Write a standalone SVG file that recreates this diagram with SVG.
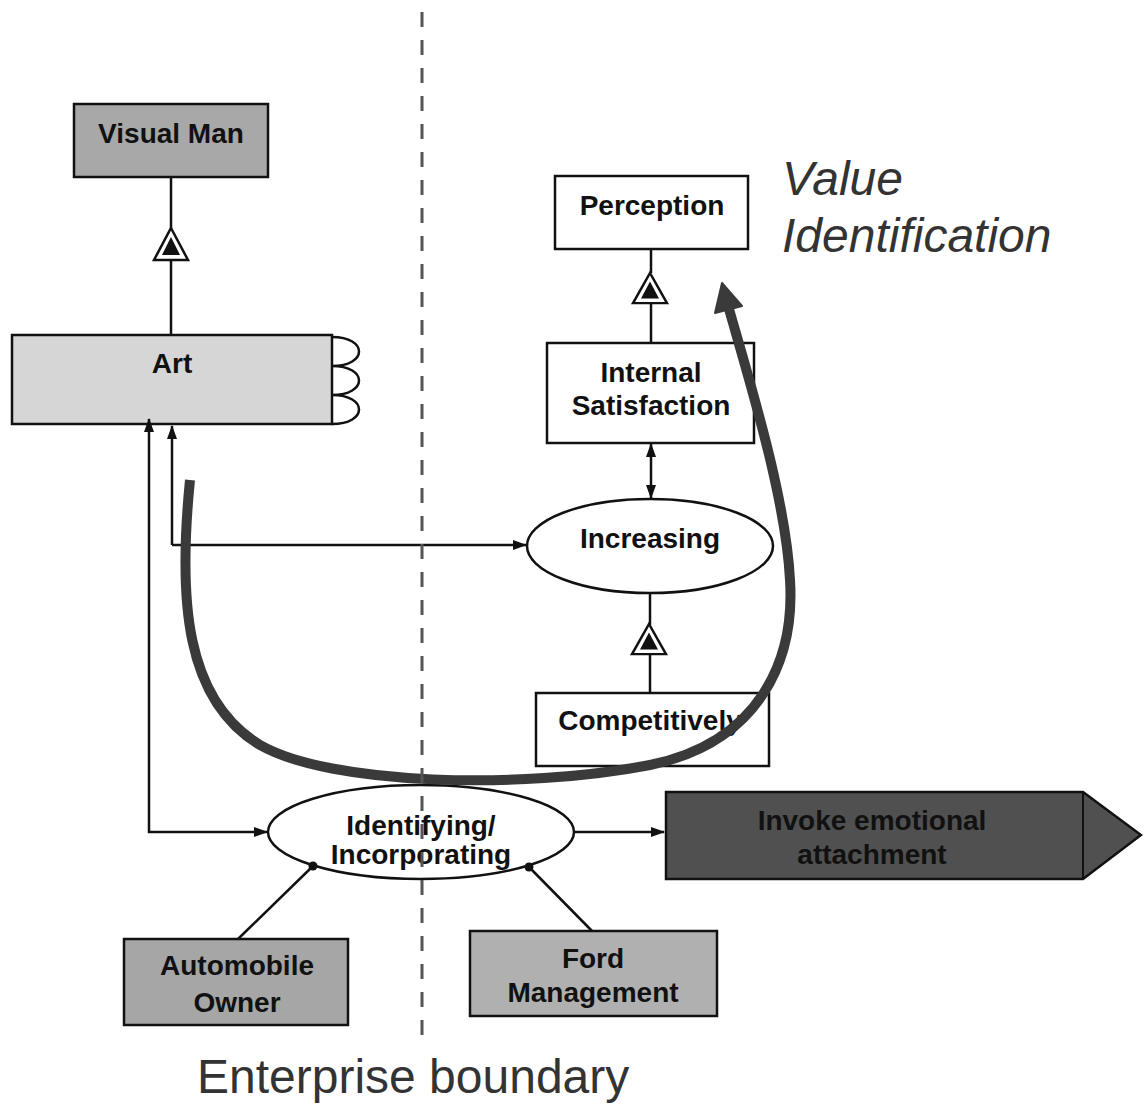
<svg xmlns="http://www.w3.org/2000/svg" width="1143" height="1106" viewBox="0 0 1143 1106">
<style>
.box{stroke:#111;stroke-width:2.5}
.lbl{font-family:"Liberation Sans",Arial,sans-serif;font-weight:bold;font-size:28px;fill:#111;text-anchor:middle}
.ln{stroke:#111;stroke-width:2.5;fill:none}
.big{font-family:"Liberation Sans",Arial,sans-serif;font-size:48px;fill:#333}
</style>
<defs>
<marker id="ah" viewBox="0 0 14 10" refX="13" refY="5" markerWidth="14" markerHeight="10" markerUnits="userSpaceOnUse" orient="auto-start-reverse">
<path d="M0,0 L14,5 L0,10 z" fill="#111"/>
</marker>
<g id="gen">
<path d="M0,0 L17,32 L-17,32 z" fill="#fff" stroke="#111" stroke-width="2.5"/>
<path d="M0,9 L9,27 L-9,27 z" fill="#111"/>
</g>
</defs>
<rect width="1143" height="1106" fill="#fff"/>

<g id="visual-man">
<rect class="box" x="74" y="104" width="194" height="73" fill="#a8a8a8"/>
<text class="lbl" x="171" y="143">Visual Man</text>
</g>
<g id="art">
<rect class="box" x="12" y="335" width="320" height="89" fill="#d6d6d6"/>
<path class="ln" d="M332,337 C368,337 368,366 332,366 C368,366 368,395 332,395 C368,395 368,424 332,424"/>
<text class="lbl" x="172" y="373">Art</text>
</g>
<g id="perception">
<rect class="box" x="555" y="176" width="193" height="73" fill="#fff"/>
<text class="lbl" x="652" y="215">Perception</text>
</g>
<g id="internal-satisfaction">
<rect class="box" x="547" y="343" width="207" height="100" fill="#fff"/>
<text class="lbl" x="651" y="382">Internal</text>
<text class="lbl" x="651" y="415">Satisfaction</text>
</g>
<g id="increasing">
<ellipse class="box" cx="650" cy="546" rx="123" ry="47" fill="#fff"/>
<text class="lbl" x="650" y="548">Increasing</text>
</g>
<g id="competitively">
<rect class="box" x="536" y="693" width="233" height="73" fill="#fff"/>
<text class="lbl" x="650" y="730">Competitively</text>
</g>
<g id="identifying">
<ellipse class="box" cx="421" cy="832" rx="153" ry="47" fill="#fff"/>
<text class="lbl" x="421" y="835" font-size="27">Identifying/</text>
<text class="lbl" x="421" y="864" font-size="27">Incorporating</text>
</g>
<g id="invoke">
<path class="box" d="M666,792 L1083,792 L1141,835 L1083,879 L666,879 z" fill="#505050"/>
<line x1="1083" y1="792" x2="1083" y2="879" stroke="#111" stroke-width="2"/>
<text class="lbl" x="872" y="830" fill="#1c1c1c">Invoke emotional</text>
<text class="lbl" x="872" y="864" fill="#1c1c1c">attachment</text>
</g>
<g id="automobile-owner">
<rect class="box" x="124" y="939" width="224" height="86" fill="#a6a6a6"/>
<text class="lbl" x="237" y="975">Automobile</text>
<text class="lbl" x="237" y="1012">Owner</text>
</g>
<g id="ford-management">
<rect class="box" x="470" y="931" width="247" height="85" fill="#b0b0b0"/>
<text class="lbl" x="593" y="968">Ford</text>
<text class="lbl" x="593" y="1002">Management</text>
</g>

<g id="connectors">
<line class="ln" x1="171" y1="177" x2="171" y2="228"/>
<line class="ln" x1="171" y1="260" x2="171" y2="335"/>
<use href="#gen" x="171" y="228"/>
<line class="ln" x1="651" y1="249" x2="651" y2="273"/>
<line class="ln" x1="651" y1="303" x2="651" y2="343"/>
<use href="#gen" x="650" y="273" transform="translate(650 273) scale(1 0.94) translate(-650 -273)"/>
<line class="ln" x1="650" y1="593" x2="650" y2="625"/>
<line class="ln" x1="650" y1="655" x2="650" y2="693"/>
<use href="#gen" x="649" y="624" transform="translate(649 624) scale(1 0.94) translate(-649 -624)"/>
<line class="ln" x1="651" y1="444" x2="651" y2="498" marker-start="url(#ah)" marker-end="url(#ah)"/>
<path class="ln" d="M172,545 L172,426" marker-end="url(#ah)"/>
<path class="ln" d="M526,545 L172,545" marker-start="url(#ah)"/>
<path class="ln" d="M267,832 L149,832 L149,419" marker-start="url(#ah)" marker-end="url(#ah)"/>
<line class="ln" x1="574" y1="832" x2="664" y2="832" marker-end="url(#ah)"/>
<line class="ln" x1="313" y1="866" x2="238" y2="939"/>
<circle cx="313" cy="866" r="4.5" fill="#111"/>
<line class="ln" x1="529" y1="867" x2="592" y2="931"/>
<circle cx="529" cy="867" r="4.5" fill="#111"/>
<path d="M190,480 C178,600 185,700 260,745 C330,785 520,790 650,765 C760,742 795,660 790,580 C786,500 751,386 729,309" fill="none" stroke="#3a3a3a" stroke-width="10"/>
<path d="M722,283 L742,306 L715,313 z" fill="#3a3a3a" stroke="#3a3a3a" stroke-width="2" stroke-linejoin="round"/>
</g>

<line x1="422" y1="12" x2="422" y2="1045" stroke="#555" stroke-width="3" stroke-dasharray="15 13"/>
<text class="big" x="782" y="195" font-style="italic">Value</text>
<text class="big" x="782" y="252" font-style="italic">Identification</text>
<text class="big" x="197" y="1093">Enterprise boundary</text>
</svg>
